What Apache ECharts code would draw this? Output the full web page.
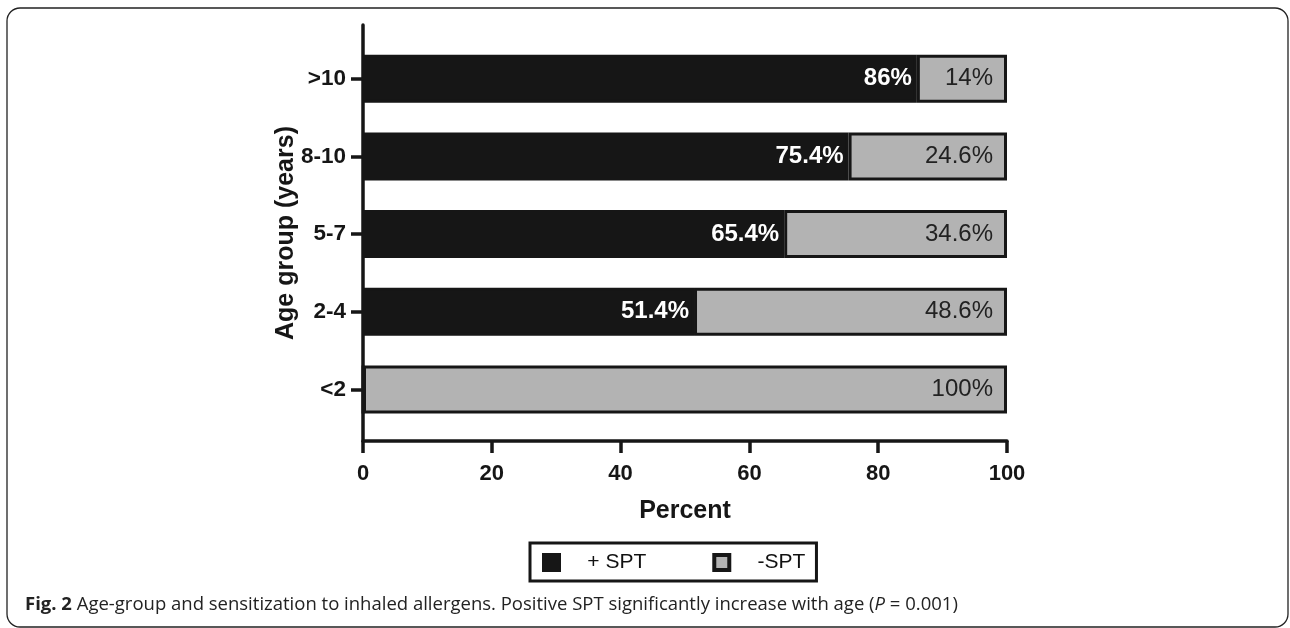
<!DOCTYPE html>
<html>
<head>
<meta charset="utf-8">
<script src="https://cdn.jsdelivr.net/npm/echarts@6/dist/echarts.min.js"></script>
<style>
html,body{margin:0;padding:0;background:#fff;}
#chart{width:1290px;height:628px;}
</style>
</head>
<body>
<div id="chart"></div>
<script>
const categories = ['<2', '2-4', '5-7', '8-10', '>10'];
const positiveSPT = [0, 51.4, 65.4, 75.4, 86];
const negativeSPT = [100, 48.6, 34.6, 24.6, 14];
const xTicks = [0, 20, 40, 60, 80, 100];
const seriesNames = ['+ SPT', '-SPT'];

const FONT = "'Liberation Sans', Arial, Helvetica, sans-serif";
const CAPFONT = "'Open Sans', 'Noto Sans', sans-serif";
const INK = '#161616';
const GREY = '#b3b3b3';

const chart = echarts.init(document.getElementById('chart'), null, {renderer: 'canvas'});

const option = {
  backgroundColor: '#fff',
  animation: false,
  graphic: [{
    type: 'rect',
    shape: {x: 7, y: 8, width: 1281, height: 619, r: 13},
    style: {fill: 'none', stroke: '#222', lineWidth: 1.3},
    z: -1
  }],
  title: {
    left: 20,
    top: 590,
    text: '{b|Fig. 2} Age-group and sensitization to inhaled allergens. Positive SPT significantly increase with age ({i|P} = 0.001)',
    textStyle: {
      fontFamily: CAPFONT,
      fontSize: 18.5,
      fontWeight: 'normal',
      color: '#222',
      rich: {
        b: {fontFamily: CAPFONT, fontSize: 18.5, fontWeight: 'bold', color: '#222'},
        i: {fontFamily: CAPFONT, fontSize: 18.5, fontStyle: 'italic', color: '#222'}
      }
    }
  },
  legend: {
    data: seriesNames,
    left: 530,
    top: 543,
    orient: 'horizontal',
    icon: 'rect',
    itemWidth: 15,
    itemHeight: 15,
    itemGap: 66,
    padding: [9, 11, 8, 12],
    borderColor: INK,
    borderWidth: 3,
    itemStyle: {borderWidth: 4},
    formatter: function (n) { return '    ' + n; },
    textStyle: {fontFamily: FONT, fontSize: 21, color: '#111'}
  },
  grid: [
    {left: 363, right: 283, top: 25, bottom: 187, containLabel: false},
    {left: 363, right: 283, top: 39.85, bottom: 199.65, containLabel: false}
  ],
  xAxis: [
    {
      gridIndex: 0, type: 'value', min: xTicks[0], max: xTicks[xTicks.length - 1], interval: 20,
      name: 'Percent', nameLocation: 'middle', nameGap: 58,
      nameTextStyle: {fontFamily: FONT, fontSize: 25, fontWeight: 'bold', color: INK},
      axisLine: {show: true, lineStyle: {color: INK, width: 3.5}},
      axisTick: {show: true, length: 12, lineStyle: {color: INK, width: 3.5}},
      axisLabel: {fontFamily: FONT, fontSize: 22, fontWeight: 'bold', color: INK, margin: 22,
        formatter: function (v) { return xTicks.indexOf(v) >= 0 ? String(v) : ''; }},
      splitLine: {show: false}
    },
    {
      gridIndex: 1, type: 'value', min: 0, max: 100, show: false
    }
  ],
  yAxis: [
    {
      gridIndex: 0, type: 'value', min: 0, max: 1,
      name: 'Age group (years)', nameLocation: 'middle', nameGap: 64, nameRotate: 90,
      nameTextStyle: {fontFamily: FONT, fontSize: 25, fontWeight: 'bold', color: INK},
      axisLine: {show: true, lineStyle: {color: INK, width: 3.5}},
      axisTick: {show: false}, axisLabel: {show: false}, splitLine: {show: false}
    },
    {
      gridIndex: 1, type: 'category', data: categories,
      axisLine: {show: false},
      axisTick: {show: true, alignWithLabel: true, length: 12, lineStyle: {color: INK, width: 3.5}},
      axisLabel: {fontFamily: FONT, fontSize: 22.5, fontWeight: 'bold', color: INK, margin: 17},
      splitLine: {show: false}
    }
  ],
  series: [
    {
      name: seriesNames[0], type: 'bar', stack: 'spt', xAxisIndex: 1, yAxisIndex: 1,
      data: positiveSPT, barWidth: 48,
      itemStyle: {color: INK, borderColor: INK, borderWidth: 3},
      label: {show: true, position: 'insideRight', distance: 5,
        fontFamily: FONT, fontSize: 24, fontWeight: 'bold', color: '#fff',
        formatter: function (p) { return p.value > 0 ? p.value + '%' : ''; }}
    },
    {
      name: seriesNames[1], type: 'bar', stack: 'spt', xAxisIndex: 1, yAxisIndex: 1,
      data: negativeSPT, barWidth: 48,
      itemStyle: {color: GREY, borderColor: INK, borderWidth: 3},
      label: {show: true, position: 'insideRight', distance: 14,
        fontFamily: FONT, fontSize: 24, fontWeight: 'normal', color: '#222',
        formatter: function (p) { return p.value > 0 ? p.value + '%' : ''; }}
    }
  ]
};

chart.setOption(option);
</script>
</body>
</html>
